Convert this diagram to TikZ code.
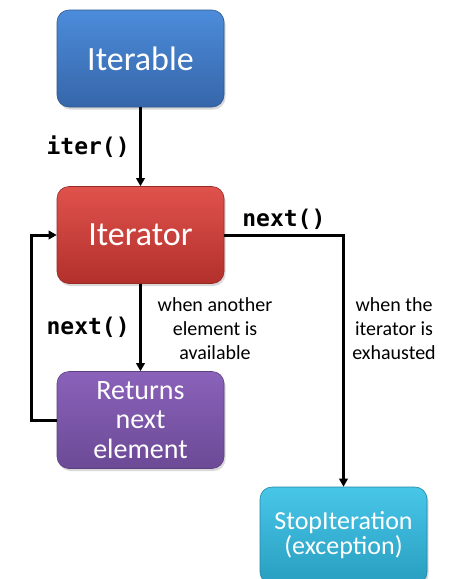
\documentclass[tikz,border=0pt]{standalone}
\usepackage{fontspec}
\setmainfont{Carlito}
\newfontfamily\codefont{DejaVu Sans Mono}
\usetikzlibrary{arrows.meta,shadows}
\definecolor{bluetop}{RGB}{76,140,218}
\definecolor{bluebot}{RGB}{54,102,170}
\definecolor{redtop}{RGB}{224,82,76}
\definecolor{redbot}{RGB}{178,48,44}
\definecolor{purtop}{RGB}{138,98,186}
\definecolor{purbot}{RGB}{108,74,150}
\definecolor{cyantop}{RGB}{72,198,232}
\definecolor{cyanbot}{RGB}{40,158,192}
\tikzset{
  boxbase/.style={rounded corners=12pt, minimum width=167pt, minimum height=97pt,
    text=white, align=center, inner sep=0pt,
    drop shadow={shadow xshift=1.5pt, shadow yshift=-2.5pt, opacity=0.3}},
  bluebox/.style={boxbase, top color=bluetop, bottom color=bluebot, draw=bluebot!85!black, line width=0.6pt},
  redbox/.style={boxbase, top color=redtop, bottom color=redbot, draw=redbot!85!black, line width=0.6pt},
  purbox/.style={boxbase, top color=purtop, bottom color=purbot, draw=purbot!85!black, line width=0.6pt},
  cyanbox/.style={boxbase, top color=cyantop, bottom color=cyanbot, draw=cyanbot!85!black, line width=0.6pt},
  conn/.style={line width=3pt, -{Triangle[length=8pt,width=8.5pt]}},
  codelbl/.style={font=\codefont\bfseries\fontsize{23}{26}\selectfont, text=black},
  note/.style={font=\fontsize{20}{24}\selectfont, align=center, text=black}
}
\begin{document}
\begin{tikzpicture}[x=1pt,y=-1pt]
  \useasboundingbox (0,0) rectangle (455,579);
  \node[bluebox, font=\fontsize{34}{38}\selectfont] (it) at (140.5,58.5) {Iterable};
  \node[redbox, font=\fontsize{34}{38}\selectfont] (itr) at (140.5,235) {Iterator};
  \node[purbox, font=\fontsize{28}{29.5}\selectfont] (ret) at (140.5,420) {Returns\\next\\element};
  \node[cyanbox, font=\fontsize{26}{25}\selectfont] (stop) at (343.5,535.5) {StopIteration\\(exception)};

  \draw[conn] (it.south) -- node[codelbl, left=6pt] {iter()} (itr.north);
  \draw[conn] (itr.east) -| node[codelbl, pos=0.25, above=1pt] {next()} (stop.north);
  \draw[conn] (itr.south) -- node[codelbl, left=6pt] {next()} (ret.north);
  \draw[conn] (ret.west) -- ++(-25,0) |- (itr.west);

  \node[note] (n1) at (215,329) {when another\\element is\\available};
  \node[note] (n2) at (394,329) {when the\\iterator is\\exhausted};
\end{tikzpicture}
\end{document}
